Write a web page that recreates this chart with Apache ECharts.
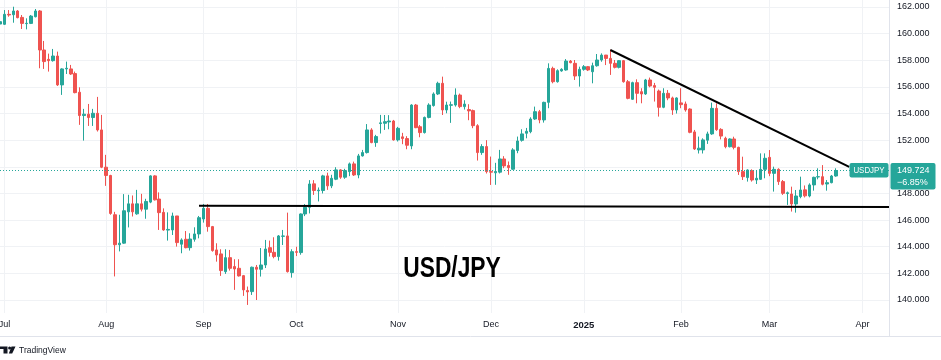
<!DOCTYPE html>
<html>
<head>
<meta charset="utf-8">
<script src="https://cdn.jsdelivr.net/npm/echarts@6/dist/echarts.min.js"></script>
<style>html,body{margin:0;padding:0;background:#fff}#c{width:941px;height:360px}</style>
</head>
<body>
<div id="c"></div>
<script>
// ---- data ----
const firstDay = '2024-06-28';
const lastDay = '2025-04-09';
const holidays = ['2024-12-25', '2025-01-01'];
const monthNames = ['Jan','Feb','Mar','Apr','May','Jun','Jul','Aug','Sep','Oct','Nov','Dec'];

const open = [
160.72,160.70,161.45,161.42,161.70,161.22,160.75,160.77,161.27,161.70,
158.77,158.07,157.97,158.32,156.15,157.35,157.35,157.00,155.60,153.85,
153.95,153.70,154.02,152.77,149.97,149.35,146.40,144.15,144.27,146.62,
147.22,146.47,147.22,146.82,147.35,149.32,147.58,146.58,145.25,145.26,
146.31,144.19,144.56,143.93,144.56,144.96,146.08,146.88,145.51,143.76,
143.46,142.13,143.18,142.51,142.38,141.83,140.71,140.63,142.46,142.31,
142.63,143.93,143.58,143.26,144.78,144.81,142.06,143.63,143.56,146.46,
146.96,148.72,148.20,148.22,149.32,148.57,149.07,149.77,149.22,149.64,
150.22,149.39,150.82,151.07,152.77,151.82,153.25,153.27,153.37,153.44,
152.02,152.25,152.12,151.57,154.64,153.01,152.57,153.71,154.60,155.47,
156.27,154.27,154.62,154.64,155.39,154.52,154.30,154.22,153.09,151.07,
151.52,149.64,149.55,149.60,150.59,150.10,149.82,151.22,151.99,152.52,
152.64,153.59,154.14,153.52,154.84,157.39,156.39,157.20,157.27,157.94,
157.77,156.82,157.32,157.52,157.14,157.59,158.02,158.39,158.14,157.77,
157.47,157.97,156.39,155.07,156.32,155.64,155.47,156.52,156.10,155.69,
154.47,155.52,155.17,154.27,154.80,154.72,154.34,152.62,151.27,151.27,
152.00,152.47,154.39,152.81,152.14,151.51,152.09,151.46,149.64,149.19,
149.71,149.01,149.06,149.81,150.71,149.51,149.81,148.89,147.99,147.96,
147.21,147.76,148.27,147.81,148.64,149.24,149.26,148.71,148.81,149.31];

const close = [
160.90,161.45,161.40,161.70,161.20,160.77,160.78,161.32,161.70,158.77,
157.90,157.97,158.32,156.15,157.35,157.40,156.97,155.57,153.85,153.95,
153.70,154.02,152.77,149.97,149.35,146.50,144.15,144.27,146.70,147.22,
146.62,147.22,146.82,147.40,149.32,147.52,146.56,145.26,145.30,146.31,
144.31,144.51,143.93,144.58,144.96,146.18,146.88,145.51,143.71,143.38,
142.21,143.18,142.38,142.33,141.81,140.76,140.61,142.46,142.31,142.63,
143.83,143.58,143.26,144.81,144.81,142.13,143.63,143.58,146.46,146.96,
148.71,148.22,148.25,149.32,148.57,149.14,149.77,149.22,149.72,150.22,
149.39,150.82,151.07,152.77,151.82,152.27,153.30,153.39,153.44,152.02,
152.89,152.12,151.62,154.64,152.94,152.57,153.71,154.64,155.47,156.27,
154.27,154.64,154.66,155.39,154.52,154.71,154.20,153.09,151.07,151.52,
149.64,149.60,149.65,150.59,150.07,149.94,151.27,151.94,152.47,152.67,
153.59,154.14,153.52,154.84,157.39,156.39,157.22,157.32,157.94,157.82,
156.82,157.32,157.52,157.27,157.59,158.02,158.39,158.14,157.77,157.47,
157.97,156.39,155.14,156.32,155.52,155.47,156.52,156.07,155.97,154.47,
155.52,155.17,154.27,155.17,154.67,154.27,152.59,151.34,151.40,152.02,
152.47,154.39,152.79,152.31,151.51,152.09,151.46,149.64,149.26,149.76,
149.01,149.14,149.81,150.64,149.51,149.81,148.89,148.01,148.05,147.21,
147.81,148.26,147.82,148.64,149.21,149.26,148.69,148.81,149.31,149.724];

const low = [
160.60,160.65,161.27,160.82,161.15,160.35,160.32,160.72,161.22,157.40,
157.35,157.15,157.90,156.07,155.40,156.97,156.90,155.52,153.15,151.97,
153.07,153.07,152.65,149.90,148.57,146.40,141.77,143.65,144.22,145.45,
146.27,146.40,146.65,146.10,147.27,147.47,145.26,145.20,144.46,144.88,
144.01,143.51,143.88,143.71,144.38,144.63,145.81,145.13,143.63,142.88,
141.81,141.96,142.21,140.76,141.76,140.31,139.63,140.38,140.00,141.76,
142.40,143.26,143.13,142.96,144.13,142.06,141.68,143.30,143.40,146.30,
146.50,147.89,147.40,148.00,148.27,148.40,149.00,149.10,149.10,149.30,
149.31,149.14,150.77,151.00,151.77,151.50,152.50,152.77,152.82,151.97,
151.90,151.70,151.32,151.32,152.90,152.22,152.50,153.64,154.52,155.39,
153.89,154.02,153.30,154.52,154.40,154.30,153.50,152.90,150.47,150.90,
149.50,148.64,148.65,149.50,149.90,149.40,149.77,151.02,151.89,152.14,
152.52,153.52,153.27,153.32,154.40,156.27,156.32,157.14,157.22,157.77,
156.52,156.02,157.22,157.19,156.27,157.52,157.89,157.64,156.90,157.39,
157.39,156.32,155.07,155.02,154.77,154.77,155.40,155.97,154.90,153.77,
154.40,155.00,153.90,154.00,154.40,154.14,152.52,151.27,151.00,151.00,
151.72,152.40,152.70,152.06,151.39,151.46,151.31,149.39,149.01,148.89,
148.89,148.71,149.01,149.14,149.30,148.14,148.64,147.89,147.14,146.64,
146.56,147.64,147.70,147.71,148.21,149.06,148.61,148.21,148.76,149.26];

const high = [
161.00,161.77,161.77,162.02,161.77,161.40,161.15,161.40,161.85,161.77,
159.45,158.50,158.85,158.65,157.40,157.90,157.65,157.15,155.97,154.35,
154.72,154.35,155.25,153.90,150.90,149.40,146.62,146.40,147.95,147.90,
147.85,148.27,147.97,147.60,149.37,149.37,148.08,146.88,146.58,146.56,
146.31,144.63,145.18,145.01,145.46,146.31,147.21,147.21,145.56,144.26,
143.81,143.81,143.76,143.06,143.06,141.88,141.01,142.51,142.63,143.90,
144.51,144.46,144.71,144.88,145.26,146.56,143.81,144.00,146.50,147.20,
149.00,149.00,148.45,149.40,149.56,149.40,149.97,149.82,149.85,150.32,
150.39,150.97,151.27,153.21,152.90,152.40,153.90,153.89,153.88,153.52,
153.00,152.55,152.30,154.70,154.72,153.14,153.77,154.77,155.59,156.39,
156.77,154.89,154.90,155.89,155.50,155.00,154.70,154.30,153.20,151.70,
152.00,150.77,150.30,151.27,150.80,150.40,151.40,152.27,152.82,152.92,
153.72,154.52,154.27,154.89,157.77,157.52,157.32,157.40,158.09,158.02,
158.02,157.52,157.64,157.57,157.82,158.47,158.52,158.40,158.80,158.02,
158.02,158.02,156.52,156.39,156.57,155.90,156.60,156.70,156.30,155.80,
155.90,155.77,155.27,155.22,155.90,154.90,154.39,152.77,152.27,152.14,
152.64,154.82,154.77,152.90,152.26,152.14,152.26,151.51,150.76,149.81,
149.81,149.71,151.01,151.01,151.26,150.01,149.89,149.01,148.14,148.51,
148.26,149.26,148.60,148.76,149.26,149.89,150.13,149.01,149.39,149.89];

const lastPrice = 149.724;
const changeText = '\u22126.85%';
const symbolName = 'USDJPY';
const titleText = 'USD/JPY';
const priceMin = 138, priceMax = 164, priceStep = 2;
const supportLine = [['2024-08-30', 147.08], ['2025-04-09', 146.98]];
const resistanceLine = [['2025-01-10', 158.77], ['2025-03-27', 150.00]];

// ---- build ----
function tradingDays(a, b, skip) {
  const out = [];
  let t = Date.parse(a + 'T00:00:00Z');
  const e = Date.parse(b + 'T00:00:00Z');
  while (t <= e) {
    const d = new Date(t);
    const wd = d.getUTCDay();
    const s = d.toISOString().slice(0, 10);
    if (wd !== 0 && wd !== 6 && skip.indexOf(s) < 0) out.push(s);
    t += 86400000;
  }
  return out;
}
const dates = tradingDays(firstDay, lastDay, holidays);
const candles = open.map((o, i) => [o, close[i], low[i], high[i]]);
const monthStart = dates.map((d, i) => i > 0 && d.slice(5, 7) !== dates[i - 1].slice(5, 7));
function monthLabel(d) {
  const m = +d.slice(5, 7) - 1;
  return m === 0 ? '{yr|' + d.slice(0, 4) + '}' : monthNames[m];
}

const FONT = '"Liberation Sans", Arial, sans-serif';
const UP = '#26a69a', DOWN = '#ef5350', GRIDC = '#f0f2f5', TXT = '#131722';

const chart = echarts.init(document.getElementById('c'), null, {renderer: 'canvas'});
chart.setOption({
  animation: false,
  backgroundColor: '#ffffff',
  grid: [
    {left: 0, right: 52, top: -19.64, bottom: 33.36, containLabel: false, outerBoundsMode: 'none'},
    {left: 0, right: 52, top: 0, height: 313, containLabel: false, outerBoundsMode: 'none'}
  ],
  xAxis: [
    {type: 'category', gridIndex: 0, data: dates, boundaryGap: false, show: false},
    {type: 'category', gridIndex: 1, data: dates, boundaryGap: false,
      axisLine: {show: false}, axisTick: {show: false},
      axisLabel: {interval: (i) => monthStart[i], formatter: (v) => monthLabel(v),
        color: TXT, fontSize: 9, fontFamily: FONT, margin: 7,
        rich: {yr: {fontWeight: 'bold', fontSize: 9.5, color: TXT, fontFamily: FONT}}},
      splitLine: {show: true, interval: (i) => monthStart[i], lineStyle: {color: GRIDC, width: 1}}}
  ],
  yAxis: [
    {type: 'value', gridIndex: 0, position: 'right', min: priceMin, max: priceMax, interval: priceStep,
      axisLine: {show: false}, axisTick: {show: false},
      axisLabel: {formatter: (v) => v.toFixed(3), margin: 8, color: TXT, fontSize: 9, fontFamily: FONT,
        showMinLabel: false, showMaxLabel: false},
      splitLine: {show: true, showMinLine: false, showMaxLine: false, lineStyle: {color: GRIDC, width: 1}}},
    {type: 'value', gridIndex: 1, show: false, min: 0, max: 1}
  ],
  series: [
    {type: 'candlestick', xAxisIndex: 0, yAxisIndex: 0, data: candles, barWidth: 3,
      itemStyle: {color: UP, color0: DOWN, borderColor: UP, borderColor0: DOWN, borderWidth: 1},
      markLine: {silent: true, symbol: ['none', 'none'], label: {show: false},
        lineStyle: {color: UP, type: [1, 2], width: 1}, data: [{yAxis: lastPrice}]}},
    {type: 'line', xAxisIndex: 0, yAxisIndex: 0, data: supportLine, symbol: 'none', silent: true, z: 5,
      lineStyle: {color: '#000000', width: 2}},
    {type: 'line', xAxisIndex: 0, yAxisIndex: 0, data: resistanceLine, symbol: 'none', silent: true, z: 5,
      lineStyle: {color: '#000000', width: 2}}
  ]
});

const py = chart.convertToPixel({yAxisIndex: 0}, lastPrice);
const gx = chart.convertToPixel({xAxisIndex: 0}, dates[dates.length - 1]);

function txt(id, text, x, y, font, fill, align, extra) {
  return Object.assign({type: 'text', id: id, x: x, y: y, z: 100,
    style: {text: text, x: 0, y: 0, font: font, fill: fill,
      align: align, textAlign: align, verticalAlign: 'middle', textVerticalAlign: 'middle'}}, extra || {});
}

chart.setOption({
  graphic: [
    {type: 'line', id: 'sepV', z: 50, shape: {x1: gx + 0.5, y1: 0, x2: gx + 0.5, y2: 336}, style: {stroke: '#e0e3eb', lineWidth: 1}},
    {type: 'line', id: 'sepH', z: 50, shape: {x1: 0, y1: 336.5, x2: 941, y2: 336.5}, style: {stroke: '#e0e3eb', lineWidth: 1}},
    {type: 'rect', id: 'symBox', z: 90, shape: {x: gx - 39.5, y: py - 7.5, width: 39, height: 14.5, r: 2}, style: {fill: UP}},
    txt('symTxt', symbolName, gx - 20, py, '9px ' + FONT, '#ffffff', 'center', {scaleX: 0.88}),
    {type: 'rect', id: 'prBox', z: 90, shape: {x: gx + 1.5, y: py - 7.5, width: 45, height: 26.5, r: 2}, style: {fill: UP}},
    txt('prTxt', lastPrice.toFixed(3), gx + 8, py + 0.5, '9px ' + FONT, '#ffffff', 'left'),
    txt('chTxt', changeText, gx + 8, py + 12, '9px ' + FONT, '#ffffff', 'left'),
    txt('title', titleText, 452, 268.5, 'bold 30px ' + FONT, '#000000', 'center', {scaleX: 0.76}),
    {type: 'polygon', id: 'logo1', z: 100, shape: {points: [[0, 346.5], [7.5, 346.5], [7.5, 353.5], [3.5, 353.5], [3.5, 349], [0, 349]]}, style: {fill: TXT}},
    {type: 'circle', id: 'logo2', z: 100, shape: {cx: 9.6, cy: 348, r: 1.5}, style: {fill: TXT}},
    {type: 'polygon', id: 'logo3', z: 100, shape: {points: [[11.5, 346.5], [15.5, 346.5], [12.2, 353.5], [8.8, 353.5]]}, style: {fill: TXT}},
    txt('tv', 'TradingView', 19, 350.5, '8.5px ' + FONT, TXT, 'left')
  ]
});
</script>
</body>
</html>
